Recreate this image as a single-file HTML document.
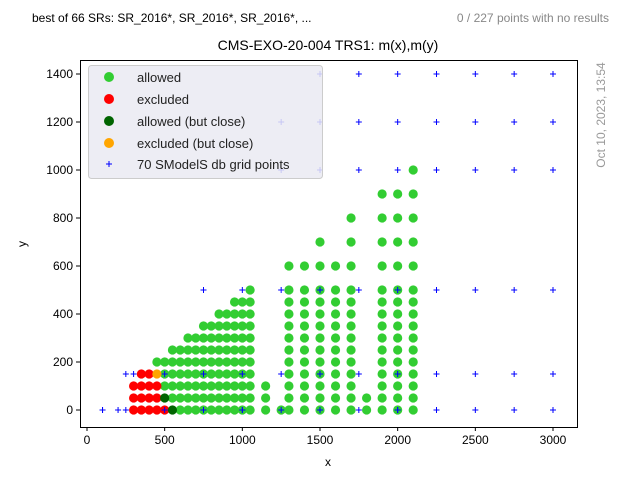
<!DOCTYPE html>
<html><head><meta charset="utf-8"><style>
body{margin:0;background:#fff;font-family:"Liberation Sans","DejaVu Sans",sans-serif;}
svg text{font-family:"Liberation Sans","DejaVu Sans",sans-serif;}
</style></head><body>
<svg id="chart" width="640" height="480" xmlns="http://www.w3.org/2000/svg">
<rect width="640" height="480" fill="#fff"/>
<text x="32" y="22" font-size="12" fill="#000">best of 66 SRs: SR_2016*, SR_2016*, SR_2016*, ...</text>
<text x="609" y="22" font-size="12" fill="#888" text-anchor="end">0 / 227 points with no results</text>
<text x="328" y="50" font-size="14" text-anchor="middle" fill="#000">CMS-EXO-20-004 TRS1: m(x),m(y)</text>
<text transform="translate(605,115) rotate(-90)" font-size="12" fill="#999" text-anchor="middle">Oct 10, 2023, 13:54</text>
<g id="pts"></g>
<g id="grid-layer"></g>
<g id="axes"></g>
<g>
<rect x="88.5" y="65.5" width="234" height="113" rx="3" fill="#eaeaf2" fill-opacity="0.85" stroke="#ccc"/>
<circle cx="109" cy="77" r="5" fill="#32cd32"/>
<text x="137" y="82" font-size="13" fill="#222">allowed</text>
<circle cx="109" cy="99" r="5" fill="#ff0000"/>
<text x="137" y="104" font-size="13" fill="#222">excluded</text>
<circle cx="109" cy="121" r="5" fill="#006400"/>
<text x="137" y="126" font-size="13" fill="#222">allowed (but close)</text>
<circle cx="109" cy="143" r="5" fill="#ffa500"/>
<text x="137" y="148" font-size="13" fill="#222">excluded (but close)</text>
<path d="M106,164h6M109,161v6" stroke="#00f" stroke-width="1"/>
<text x="137" y="169" font-size="13" fill="#222">70 SModelS db grid points</text>
</g>
</svg>
<script>
const xTicks=[0,500,1000,1500,2000,2500,3000];
const yTicks=[0,200,400,600,800,1000,1200,1400];
const allowedClose=[[500,50],[550,0]];
const excludedClose=[[450,150]];
const excluded=[[300,0],[350,0],[400,0],[450,0],[500,0],[300,50],[350,50],[400,50],[450,50],[300,100],[350,100],[400,100],[450,100],[350,150],[400,150]];
const leftRowStarts=[[0,600],[50,550],[100,500],[150,500],[200,450],[250,550],[300,650],[350,750],[400,850],[450,950],[500,1050]];
const rightCols=[1300,1400,1500,1600,1700,1900,2000,2100];
const extraAllowed=[[1150,0],[1150,50],[1150,100],[1250,0],[1800,0],[1800,50],[1300,600],[1400,600],[1500,600],[1600,600],[1700,600],[1900,600],[2000,600],[2100,600],[1500,700],[1700,700],[1900,700],[2000,700],[2100,700],[1700,800],[1900,800],[2000,800],[2100,800],[1900,900],[2000,900],[2100,900],[2100,1000]];
const gridRow0=[100,100,200,250,500,750,1000,1000,1250,1500,1500,1750,2000,2000,2250,2500,2750,3000];
const gridRow150=[250,300,500,750,1000,1250,1500,1750,2000,2250,2500,2750,3000];
const gridRow500=[750,1000,1250,1500,1750,2000,2250,2500,2750,3000];
const gridRow1000=[1250,1500,1750,2000,2250,2500,2750,3000];
const gridRow1200=[1250,1500,1750,2000,2250,2500,2750,3000];
const gridRow1400=[1500,1750,2000,2250,2500,2750,3000];

const L=80,R=577,T=60,B=427;
function sx(v){return 87+v*(553-87)/3000;}
function sy(v){return 410-v*336/1400;}
const NS="http://www.w3.org/2000/svg";
function mk(tag,attrs,parent){const e=document.createElementNS(NS,tag);for(const k in attrs)e.setAttribute(k,attrs[k]);parent.appendChild(e);return e;}
const pts=document.getElementById('pts'),gl=document.getElementById('grid-layer'),ax=document.getElementById('axes');
let allowed=[];
leftRowStarts.forEach(([y,x0])=>{for(let x=x0;x<=1050;x+=50)allowed.push([x,y]);});
for(let y=0;y<=500;y+=50)rightCols.forEach(x=>allowed.push([x,y]));
allowed=allowed.concat(extraAllowed);
const key=p=>p[0]+','+p[1];
const taken=new Set([...excluded,...excludedClose,...allowedClose].map(key));
allowed=allowed.filter(p=>!taken.has(key(p)));
function dots(arr,col,name){arr.forEach(p=>{const c=mk('circle',{cx:sx(p[0]),cy:sy(p[1]),r:4.6,fill:col},pts);

});}
dots(allowed,'#32cd32','allowed-point');
dots(excluded,'#ff0000','excluded-point');
dots(allowedClose,'#006400','allowed-close-point');
dots(excludedClose,'#ffa500','excluded-close-point');
[[0,gridRow0],[150,gridRow150],[500,gridRow500],[1000,gridRow1000],[1200,gridRow1200],[1400,gridRow1400]].forEach(([y,xs])=>{xs.forEach(x=>{const X=sx(x),Y=sy(y);
const p=mk('path',{d:`M${X-3},${Y}h6M${X},${Y-3}v6`,stroke:'#00f','stroke-width':1},gl);

});});
const fr=mk('rect',{x:L+0.5,y:T+0.5,width:R-L,height:B-T,fill:'none',stroke:'#000','stroke-width':1},ax);


xTicks.forEach(v=>{const X=sx(v);mk('line',{x1:X,x2:X,y1:B,y2:B+4,stroke:'#000'},ax);
const t=mk('text',{x:X,y:B+17,'font-size':12,'text-anchor':'middle',fill:'#000'},ax);t.textContent=v;

});
yTicks.forEach(v=>{const Y=sy(v);mk('line',{x1:L-4,x2:L,y1:Y,y2:Y,stroke:'#000'},ax);
const t=mk('text',{x:L-7,y:Y+4,'font-size':12,'text-anchor':'end',fill:'#000'},ax);t.textContent=v;

});
const xt=mk('text',{x:328,y:466,'font-size':12,'text-anchor':'middle'},ax);xt.textContent='x';


const yt=mk('text',{transform:'translate(26,244) rotate(-90)','font-size':12,'text-anchor':'middle'},ax);yt.textContent='y';


</script>
</body></html>
